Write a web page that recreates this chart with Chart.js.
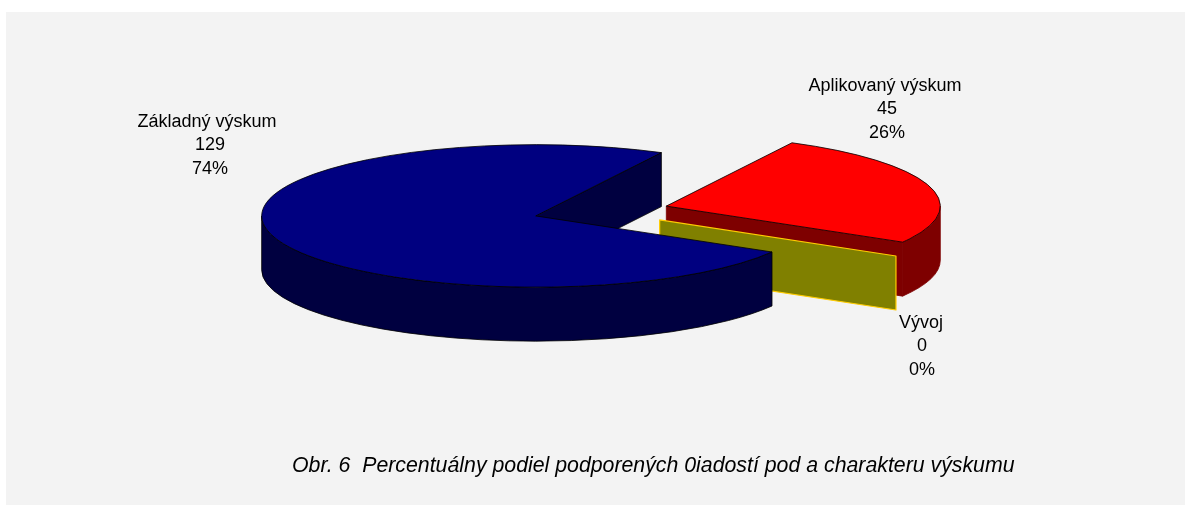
<!DOCTYPE html>
<html>
<head>
<meta charset="utf-8">
<script src="https://cdn.jsdelivr.net/npm/chart.js@4/dist/chart.umd.min.js"></script>
<style>html,body{margin:0;padding:0;background:#fff}canvas{display:block}</style>
</head>
<body>
<canvas id="c" width="1189" height="506"></canvas>
<script>
const categories = ['Aplikovaný výskum', 'Vývoj', 'Základný výskum'];
const values = [45, 0, 129];
const percents = ['26%', '0%', '74%'];
const topColors = ['#ff0000', '#808000', '#000080'];
const wallColors = ['#7e0000', '#808000', '#000040'];
const edgeColors = ['#7e0000', '#ffcc00', '#000000'];
const caption = 'Obr. 6  Percentuálny podiel podporených 0iadostí pod a charakteru výskumu';

const TILT = 0.26, DEPTH = 54, CY = 211, EXPLODE = 68;

function geom(arc) {
  const p = arc.getProps(['x', 'y', 'startAngle', 'endAngle', 'outerRadius']);
  return { x: p.x, y: CY + TILT * (p.y - CY), r: p.outerRadius, a0: p.startAngle, a1: p.endAngle };
}

const tilted3D = {
  id: 'tilted3D',
  afterDatasetsUpdate(chart) {
    chart.getDatasetMeta(0).data.forEach(arc => {
      const mid = (arc.startAngle + arc.endAngle) / 2;
      arc.x += Math.cos(mid) * EXPLODE;
      arc.y += Math.sin(mid) * EXPLODE;
    });
  },
  beforeDraw(chart) {
    const c = chart.ctx;
    c.save();
    c.fillStyle = '#ffffff'; c.fillRect(0, 0, 1189, 506);
    c.fillStyle = '#f3f3f3'; c.fillRect(6, 12, 1179, 493);
    c.restore();
  },
  beforeDatasetsDraw(chart) {
    const c = chart.ctx, arcs = chart.getDatasetMeta(0).data;
    arcs.forEach((arc, i) => {
      const g = geom(arc), ry = g.r * TILT;
      const px = a => g.x + g.r * Math.cos(a), py = a => g.y + ry * Math.sin(a);
      c.save();
      c.fillStyle = wallColors[i];
      c.strokeStyle = edgeColors[i];
      c.lineWidth = i === 1 ? 1.2 : 0.8;
      c.lineJoin = 'round';
      const face = a => {
        c.beginPath();
        c.moveTo(g.x, g.y);
        c.lineTo(px(a), py(a));
        c.lineTo(px(a), py(a) + DEPTH);
        c.lineTo(g.x, g.y + DEPTH);
        c.closePath();
        c.fill(); c.stroke();
      };
      if (Math.cos(g.a0) < 0 && g.a1 > g.a0) face(g.a0);
      if (Math.cos(g.a1) > 0) face(g.a1);
      [0, 2 * Math.PI].forEach(shift => {
        const s = Math.max(g.a0, shift), e = Math.min(g.a1, shift + Math.PI);
        if (e > s) {
          c.beginPath();
          c.ellipse(g.x, g.y, g.r, ry, 0, s, e);
          c.lineTo(px(e), py(e) + DEPTH);
          c.ellipse(g.x, g.y + DEPTH, g.r, ry, 0, e, s, true);
          c.closePath();
          c.fill(); c.stroke();
        }
      });
      c.restore();
    });
    c.save();
    c.translate(0, CY); c.scale(1, TILT); c.translate(0, -CY);
  },
  afterDatasetsDraw(chart) {
    const c = chart.ctx, arcs = chart.getDatasetMeta(0).data;
    c.restore();
    arcs.forEach((arc, i) => {
      if (!values[i]) return;
      const g = geom(arc);
      c.save();
      c.strokeStyle = '#000000'; c.lineWidth = 0.8; c.lineJoin = 'round';
      c.beginPath();
      c.moveTo(g.x, g.y);
      c.ellipse(g.x, g.y, g.r, g.r * TILT, 0, g.a0, g.a1);
      c.closePath();
      c.stroke();
      c.restore();
    });
  },
  afterDraw(chart) {
    const c = chart.ctx, o = chart.options.plugins.tilted3D;
    c.save();
    c.fillStyle = '#000000';
    c.textAlign = 'center'; c.textBaseline = 'middle';
    c.font = o.labelFont;
    categories.forEach((name, i) => {
      const a = o.anchors[i];
      [name, String(values[i]), percents[i]].forEach((t, j) =>
        c.fillText(t, a[0] + (j ? a[2] : 0), a[1] + j * o.lineGap));
    });
    c.font = o.captionFont;
    c.textAlign = 'left';
    c.fillText(caption, o.captionAt[0], o.captionAt[1]);
    c.restore();
  }
};

new Chart(document.getElementById('c'), {
  type: 'pie',
  data: {
    labels: categories,
    datasets: [{
      data: values,
      backgroundColor: topColors,
      borderWidth: 0,
      clip: false
    }]
  },
  options: {
    responsive: false,
    animation: false,
    rotation: 27.3,
    radius: 274,
    layout: { padding: { left: 13, bottom: 84 } },
    plugins: {
      legend: { display: false },
      tooltip: { enabled: false },
      tilted3D: {
        anchors: [[885, 86, 2], [921, 323, 1], [207, 122, 3]],
        lineGap: 23.5,
        labelFont: '18px "Liberation Sans"',
        captionFont: 'italic 21.3px "Liberation Sans"',
        captionAt: [292, 466]
      }
    }
  },
  plugins: [tilted3D]
});
</script>
</body>
</html>
